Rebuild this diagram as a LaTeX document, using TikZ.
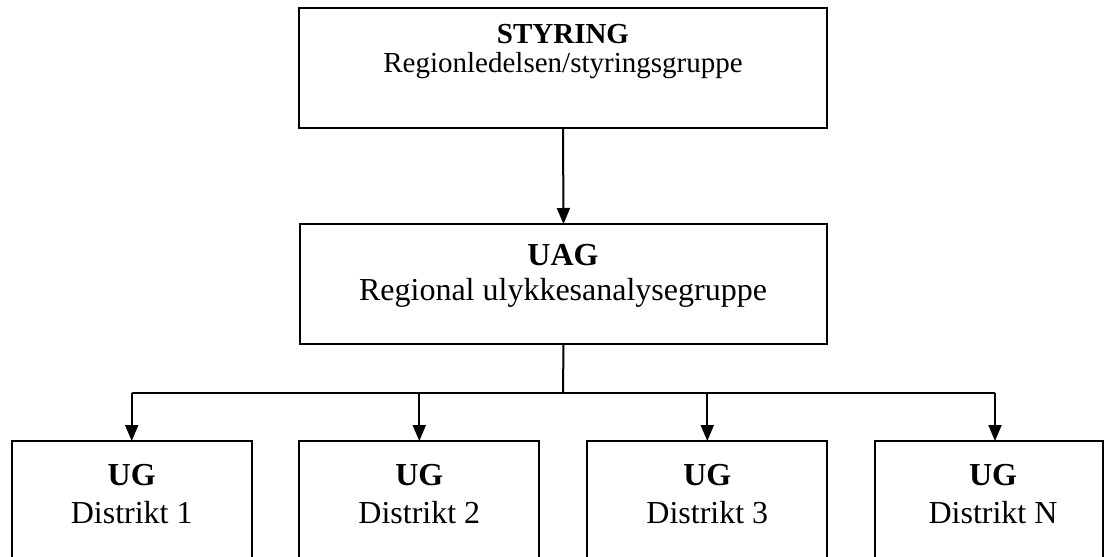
\documentclass[tikz,border=0pt]{standalone}
\usepackage{fontspec}
\setmainfont{Liberation Serif}
\usetikzlibrary{arrows.meta}
\begin{document}
\begin{tikzpicture}[x=1pt,y=-1pt, line width=2pt,
  box/.style={draw, rectangle, inner sep=0pt, outer sep=0pt, anchor=north west},
  arr/.style={-{Triangle[length=16pt,width=13pt]}},
  ttl/.style={anchor=base, inner sep=0pt, font=\bfseries\fontsize{#1}{#1}\selectfont},
  sub/.style={anchor=base, inner sep=0pt, font=\fontsize{#1}{#1}\selectfont}]
\useasboundingbox (0,0) rectangle (1106,557);
\clip (0,0) rectangle (1106,557);
% boxes
\node[box, minimum width=528pt, minimum height=120pt] (sty) at (299,8) {};
\node[box, minimum width=527pt, minimum height=120pt] (uag) at (300,224) {};
\node[box, minimum width=240pt, minimum height=200pt] (ug1) at (11.7,441) {};
\node[box, minimum width=240pt, minimum height=200pt] (ug2) at (299.3,441) {};
\node[box, minimum width=240pt, minimum height=200pt] (ug3) at (587.3,441) {};
\node[box, minimum width=228pt, minimum height=200pt] (ug4) at (875,441) {};
% texts
\node[ttl=29] (styT) at (563,43) {STYRING};
\node[sub=29] (styS) at (563,72) {Regionledelsen/styringsgruppe};
\node[ttl=32] (uagT) at (563,265) {UAG};
\node[sub=32] (uagS) at (563,300) {Regional ulykkesanalysegruppe};
\node[ttl=32] (ug1T) at (131.7,485) {UG};
\node[sub=32] (ug1S) at (131.7,523) {Distrikt 1};
\node[ttl=32] (ug2T) at (419.3,485) {UG};
\node[sub=32] (ug2S) at (419.3,523) {Distrikt 2};
\node[ttl=32] (ug3T) at (707.3,485) {UG};
\node[sub=32] (ug3S) at (707.3,523) {Distrikt 3};
\node[ttl=32] (ug4T) at (993,485) {UG};
\node[sub=32] (ug4S) at (993,523) {Distrikt N};
% connectors
\draw[arr] (sty.south) -- (uag.north);
\coordinate (bus) at (563,392.5);
\coordinate (a4) at (995,441);
\draw (uag.south) -- (bus);
\draw (ug1.north |- bus) -- (a4 |- bus);
\draw[arr] (ug1.north |- bus) -- (ug1.north);
\draw[arr] (ug2.north |- bus) -- (ug2.north);
\draw[arr] (ug3.north |- bus) -- (ug3.north);
\draw[arr] (a4 |- bus) -- (a4);
\end{tikzpicture}
\end{document}
